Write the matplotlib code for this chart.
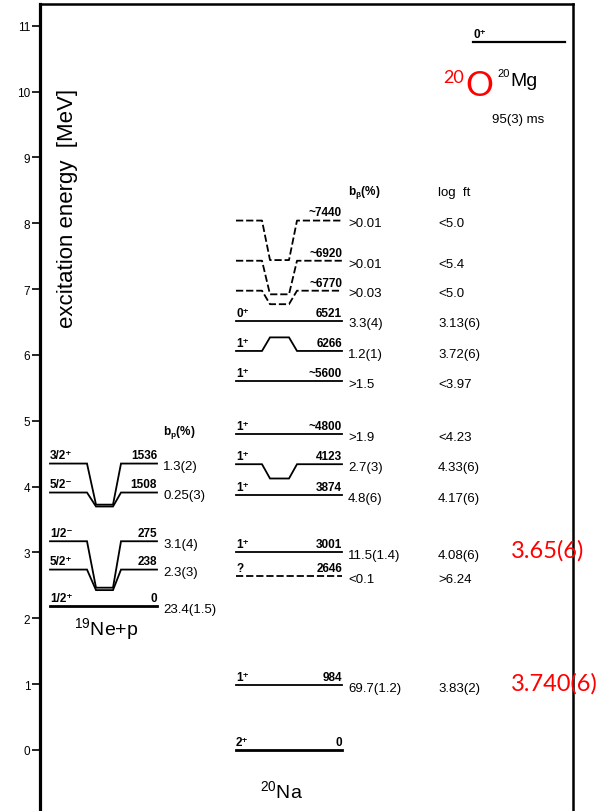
import matplotlib.pyplot as plt

NARROW = ['Liberation Sans', 'DejaVu Sans']
PLAIN = ['Liberation Sans', 'DejaVu Sans']
RED_FONT = ['Lato', 'DejaVu Sans']

# proton separation energy of 20Na (MeV)
S_P = 2.19

# 19Ne states (keV above the 19Ne+p threshold)
ne_energy = [0, 238, 275, 1508, 1536]
ne_spin = ['1/2⁺', '5/2⁺', '1/2⁻', '5/2⁻', '3/2⁺']
ne_side = [2.19, 2.74, 3.17, 3.91, 4.35]   # where the level arms are drawn (MeV)
ne_bp = ['23.4(1.5)', '2.3(3)', '3.1(4)', '0.25(3)', '1.3(2)']

# 20Na states fed in the beta decay of 20Mg
na_energy = [0, 984, 2646, 3001, 3874, 4123, 4800, 5600, 6266, 6521, 6770, 6920, 7440]
na_label = ['0', '984', '2646', '3001', '3874', '4123', '~4800', '~5600',
            '6266', '6521', '~6770', '~6920', '~7440']
na_spin = ['2⁺', '1⁺', '?', '1⁺', '1⁺', '1⁺', '1⁺', '1⁺', '1⁺', '0⁺', '', '', '']
# arm positions for the levels that are pulled apart for legibility (None = at energy)
na_side = [None, None, None, None, None, 4.34, None, None,
           6.06, None, 6.975, 7.43, 8.04]
na_dashed = [False, False, True, False, False, False, False, False,
             False, False, True, True, True]
na_bbeta = ['', '69.7(1.2)', '<0.1', '11.5(1.4)', '4.8(6)', '2.7(3)', '>1.9', '>1.5',
            '1.2(1)', '3.3(4)', '>0.03', '>0.01', '>0.01']
na_logft = ['', '3.83(2)', '>6.24', '4.08(6)', '4.17(6)', '4.33(6)', '<4.23', '<3.97',
            '3.72(6)', '3.13(6)', '<5.0', '<5.4', '<5.0']

# parent 20Mg
mg_q = 10.75
mg_halflife = '95(3) ms'

# 20O comparison values (log ft)
red_logft = ['3.740(6)', '3.65(6)']
red_rows = [1, 3]   # index into na_* lists

# pixel <-> axis layout
W, H = 611, 812
Y0_PX, PX_PER_MEV = 751.0, 65.85

fig = plt.figure(figsize=(W / 100, H / 100), dpi=100)
top_px = 5
ax = fig.add_axes([40 / W, 0, (573 - 40) / W, (H - top_px) / H])
ax.set_xlim(40, 573)
ax.set_ylim((Y0_PX - H) / PX_PER_MEV, (Y0_PX - top_px) / PX_PER_MEV)

ax.spines['left'].set_linewidth(2.3)
for s in ['top', 'right']:
    ax.spines[s].set_linewidth(1.8)
ax.spines['bottom'].set_visible(False)
ax.set_xticks([])
ax.set_yticks(range(0, 12))
ax.tick_params(axis='y', direction='out', length=6, width=1.2, pad=1)
for lab in ax.get_yticklabels():
    lab.set_family(NARROW)
    lab.set_fontsize(8.5)

ax.text(68, 8.24, 'excitation energy  [MeV]', rotation=90, family=PLAIN,
        fontsize=16, ha='center', va='center')


def draw_level(x0, x1, y_side, y_true, corners, dashed=False, lw=1.3):
    ls = (0, (4, 1.6)) if dashed else '-'
    if abs(y_side - y_true) < 1e-3:
        xs, ys = [x0, x1], [y_side, y_side]
    else:
        a, b, c, d = corners
        xs = [x0, a, b, c, d, x1]
        ys = [y_side, y_side, y_true, y_true, y_side, y_side]
    ax.plot(xs, ys, color='black', lw=lw, ls=ls, solid_joinstyle='miter')


def label_above(x, y, s, ha):
    ax.annotate(s, (x, y), xytext=(0, 1.5), textcoords='offset points',
                ha=ha, va='bottom', family=NARROW, fontsize=8.5, fontweight='bold')


def label_right(x, y, s):
    ax.annotate(s, (x, y), xytext=(0, -2), textcoords='offset points',
                ha='left', va='center', family=NARROW, fontsize=9.5)


# 19Ne + p
ne_x0, ne_x1 = 50, 157
ne_corners = (87, 96, 113, 121)
for E, spin, side, bp in zip(ne_energy, ne_spin, ne_side, ne_bp):
    y_true = S_P + E / 1000
    draw_level(ne_x0, ne_x1, side, y_true, ne_corners, lw=2.0 if E == 0 else 1.3)
    label_above(ne_x0, side, spin, 'left')
    label_above(ne_x1, side, str(E), 'right')
    label_right(163, side, bp)
ax.text(163, 4.84, 'b$_\\mathregular{p}$(%)', family=NARROW, fontsize=8.5,
        fontweight='bold', ha='left', va='center')
ax.text(106, 1.84, '$^{\\mathregular{19}}$Ne+p', family=PLAIN, fontsize=14,
        ha='center', va='center')

# 20Na
na_x0, na_x1 = 236, 342
na_corners = (262, 270, 289, 297)
for E, lab, spin, side, dashed, bb, lf in zip(na_energy, na_label, na_spin, na_side,
                                              na_dashed, na_bbeta, na_logft):
    y_true = E / 1000
    y_side = y_true if side is None else side
    draw_level(na_x0, na_x1, y_side, y_true, na_corners, dashed=dashed,
               lw=2.0 if E == 0 else 1.3)
    if spin:
        label_above(na_x0, y_side, spin, 'left')
    label_above(na_x1, y_side, lab, 'right')
    if bb:
        label_right(348, y_side, bb)
        label_right(438, y_side, lf)
ax.text(348, 8.48, 'b$_\\mathregular{β}$(%)', family=NARROW, fontsize=8.5,
        fontweight='bold', ha='left', va='center')
ax.text(438, 8.48, 'log  ft', family=NARROW, fontsize=9.5, ha='left', va='center')
ax.text(281, -0.62, '$^{\\mathregular{20}}$Na', family=PLAIN, fontsize=14,
        ha='center', va='center')

# 20Mg parent
draw_level(473, 565, mg_q, mg_q, None, lw=1.6)
label_above(473, mg_q, '0⁺', 'left')
ax.text(443, 10.15, '20', color='red', family=RED_FONT, fontsize=13, va='baseline')
ax.text(465, 9.947, 'O', color='red', family=RED_FONT, fontsize=25, va='baseline')
ax.text(497.5, 10.235, '20', family=PLAIN, fontsize=8, va='baseline')
ax.text(510, 10.10, 'Mg', family=PLAIN, fontsize=14, va='baseline')
ax.text(492, 9.58, mg_halflife, family=NARROW, fontsize=9.5, va='center')

for s, i in zip(red_logft, red_rows):
    ax.annotate(s, (511, na_energy[i] / 1000), xytext=(0, 2), textcoords='offset points',
                color='red', family=RED_FONT, fontsize=17, ha='left', va='center',
                annotation_clip=False)

fig.savefig('out.png', dpi=100)
